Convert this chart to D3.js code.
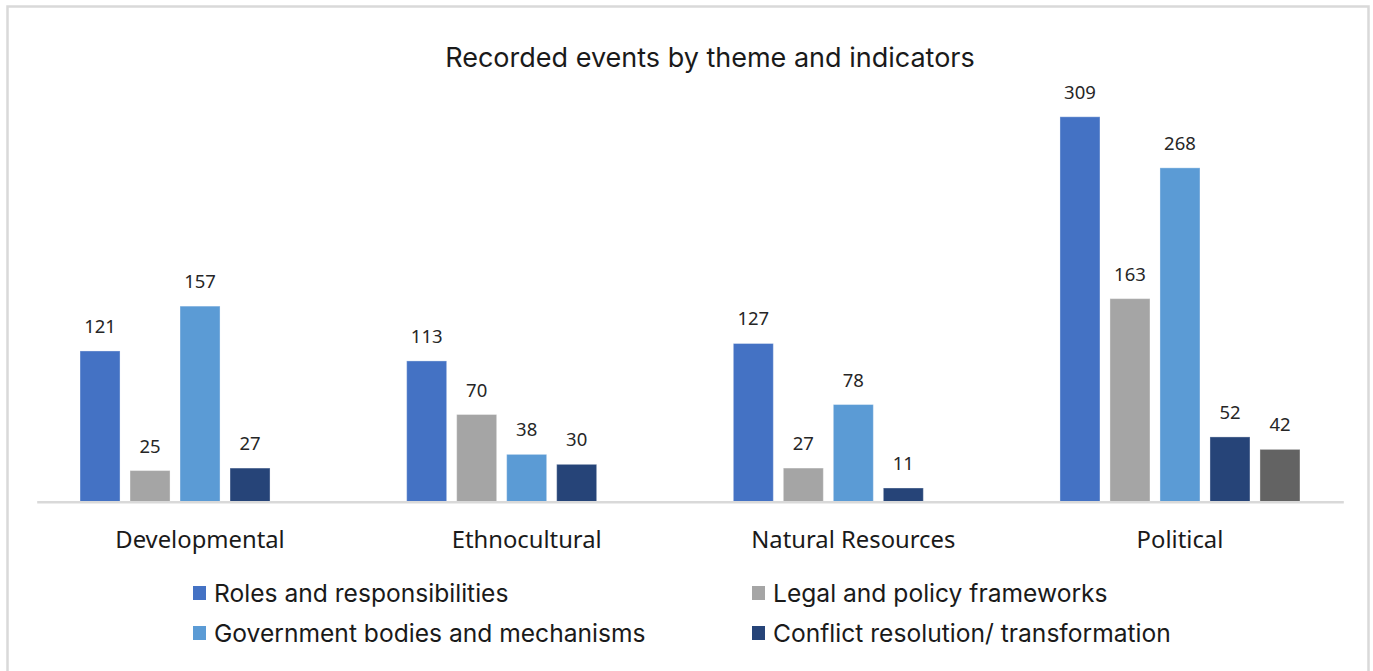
<!DOCTYPE html>
<html>
<head>
<meta charset="utf-8">
<script src="https://cdn.jsdelivr.net/npm/d3@7/dist/d3.min.js"></script>
<style>
  html, body { margin: 0; padding: 0; background: #fff; }
  svg { display: block; }
</style>
</head>
<body>
<svg id="chart" width="1373" height="671"></svg>
<script>
// Recorded events by theme (category) and indicator (series)
const themes = ["Developmental", "Ethnocultural", "Natural Resources", "Political"];

const seriesNames = [
  "Roles and responsibilities",
  "Legal and policy frameworks",
  "Government bodies and mechanisms",
  "Conflict resolution/ transformation",
  "Other"
];
const rolesValues      = [121, 113, 127, 309];
const legalValues      = [25, 70, 27, 163];
const governmentValues = [157, 38, 78, 268];
const conflictValues   = [27, 30, 11, 52];
const otherValues      = [null, null, null, 42];

const seriesColors = ["#4472C4", "#A5A5A5", "#5B9BD5", "#264478", "#636363"];
const legendSeries = [0, 1, 2, 3]; // the fifth series has no legend entry

const yMax = 350;

const allValues = [rolesValues, legalValues, governmentValues, conflictValues, otherValues];
const series = seriesNames.map((name, i) => ({
  name, color: seriesColors[i], index: i,
  values: themes.map((t, j) => ({ theme: t, value: allValues[i][j] }))
}));

const svg = d3.select("#chart");

// outer chart frame
svg.append("rect")
  .attr("x", 7.5).attr("y", 6.5)
  .attr("width", 1361).attr("height", 720)
  .attr("fill", "#fff")
  .attr("stroke", "#d9d9d9").attr("stroke-width", 2.5);

const plot = { left: 36.7, right: 1343.3, top: 65.7, bottom: 501.7 };

const x = d3.scaleBand().domain(themes).range([plot.left, plot.right]).padding(0);
const clusterWidth = 240;
const xs = d3.scaleBand().domain(d3.range(seriesNames.length))
  .range([0, clusterWidth]).paddingInner(0.2).paddingOuter(0);
const y = d3.scaleLinear().domain([0, yMax]).range([plot.bottom, plot.top]);

const clusterX = t => x(t) + (x.bandwidth() - clusterWidth) / 2;

// title
svg.append("text")
  .attr("x", 710).attr("y", 67)
  .attr("text-anchor", "middle")
  .attr("font-family", "Inter, Roboto, 'Noto Sans', sans-serif")
  .attr("font-size", 27)
  .attr("fill", "#1a1a1a")
  .text("Recorded events by theme and indicators");

// bars
const groups = svg.append("g").selectAll("g")
  .data(series).join("g")
  .attr("fill", d => d.color);

groups.selectAll("rect")
  .data(d => d.values.filter(v => v.value != null).map(v => ({ ...v, index: d.index })))
  .join("rect")
  .attr("x", d => clusterX(d.theme) + xs(d.index))
  .attr("y", d => y(d.value))
  .attr("width", xs.bandwidth())
  .attr("height", d => y(0) - y(d.value))
  .attr("stroke", "#ffffff").attr("stroke-opacity", 0.35).attr("stroke-width", 1);

// value labels
groups.selectAll("text")
  .data(d => d.values.filter(v => v.value != null).map(v => ({ ...v, index: d.index })))
  .join("text")
  .attr("x", d => clusterX(d.theme) + xs(d.index) + xs.bandwidth() / 2)
  .attr("y", d => y(d.value) - 18)
  .attr("text-anchor", "middle")
  .attr("font-family", "'Noto Sans', 'Open Sans', sans-serif")
  .attr("font-size", 18.5)
  .attr("fill", "#262626")
  .text(d => d.value);

// category axis
const xAxis = svg.append("g")
  .attr("transform", `translate(0,${plot.bottom})`)
  .call(d3.axisBottom(x).tickSize(0).tickPadding(29));
xAxis.select(".domain").attr("stroke", "#d9d9d9").attr("stroke-width", 2.5);
xAxis.selectAll("text")
  .attr("font-family", "'Noto Sans', 'Open Sans', sans-serif")
  .attr("font-size", 23.8)
  .attr("fill", "#1a1a1a");

// legend
const legendPos = [
  { x: 193, y: 593 }, { x: 752, y: 593 },
  { x: 193, y: 633 }, { x: 752, y: 633 }
];
const legend = svg.append("g").selectAll("g")
  .data(legendSeries.map(i => series[i])).join("g")
  .attr("transform", (d, i) => `translate(${legendPos[i].x},${legendPos[i].y})`);
legend.append("rect")
  .attr("x", 0).attr("y", -7).attr("width", 13).attr("height", 14)
  .attr("fill", d => d.color);
legend.append("text")
  .attr("x", 21).attr("y", 0).attr("dy", "0.35em")
  .attr("font-family", "Inter, Roboto, 'Noto Sans', sans-serif")
  .attr("font-size", 24.6)
  .attr("fill", "#1a1a1a")
  .text(d => d.name);
</script>
</body>
</html>
